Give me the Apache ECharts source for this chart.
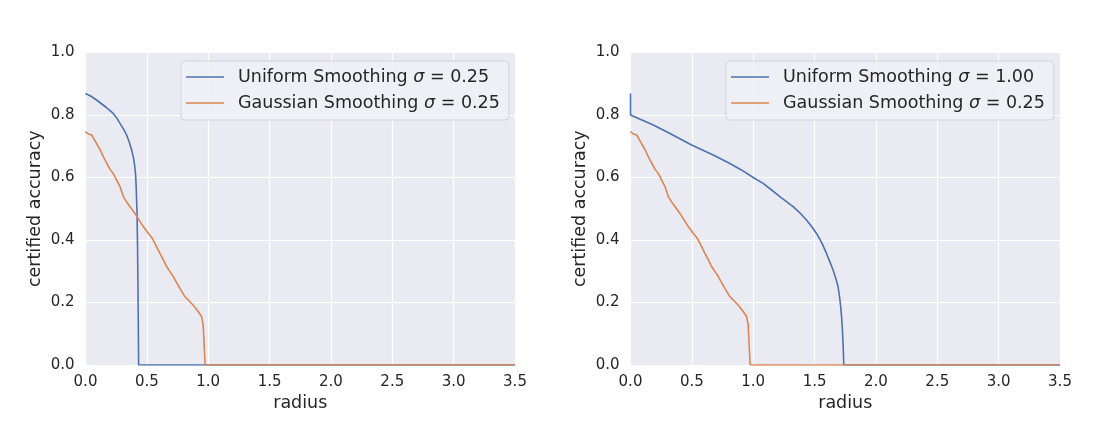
<!DOCTYPE html>
<html>
<head>
<meta charset="utf-8">
<script src="https://cdn.jsdelivr.net/npm/echarts@6/dist/echarts.min.js"></script>
<style>
  html, body { margin: 0; padding: 0; background: #ffffff; }
  #chart { width: 1105px; height: 438px; }
</style>
</head>
<body>
<div id="chart"></div>
<script>
// [radius, certified accuracy] points
const uniform025 = [
  [0, 0.869], [0.045, 0.86], [0.09, 0.848], [0.13, 0.836], [0.17, 0.824],
  [0.2, 0.814], [0.226, 0.805], [0.255, 0.79], [0.281, 0.773], [0.31, 0.755],
  [0.335, 0.736], [0.357, 0.713], [0.376, 0.688], [0.39, 0.665], [0.4, 0.64],
  [0.408, 0.61], [0.413, 0.57], [0.417, 0.52], [0.42, 0.485], [0.424, 0.38],
  [0.427, 0.272], [0.43, 0.14], [0.433, 0], [3.5, 0]
];
const gaussian025 = [
  [0, 0.747], [0.02, 0.74], [0.05, 0.736], [0.07, 0.722], [0.09, 0.709], [0.12, 0.688],
  [0.145, 0.667], [0.17, 0.648], [0.2, 0.626], [0.226, 0.613], [0.25, 0.595],
  [0.281, 0.571], [0.308, 0.539], [0.335, 0.522], [0.362, 0.507], [0.403, 0.485],
  [0.44, 0.462], [0.471, 0.443], [0.512, 0.421], [0.54, 0.408], [0.566, 0.389],
  [0.606, 0.357], [0.635, 0.336], [0.661, 0.315], [0.69, 0.298], [0.715, 0.283],
  [0.745, 0.262], [0.769, 0.245], [0.81, 0.219], [0.845, 0.205], [0.877, 0.192],
  [0.918, 0.171], [0.946, 0.155], [0.959, 0.128], [0.962, 0.128], [0.975, 0], [3.5, 0]
];
const uniform100 = [
  [0, 0.869], [0, 0.80], [0.186, 0.768], [0.322, 0.741], [0.498, 0.704],
  [0.674, 0.672], [0.81, 0.645], [0.9, 0.625], [1.0, 0.6], [1.081, 0.581],
  [1.15, 0.56], [1.217, 0.539], [1.325, 0.507], [1.38, 0.487], [1.434, 0.464],
  [1.476, 0.443], [1.516, 0.421], [1.56, 0.39], [1.597, 0.357], [1.625, 0.33],
  [1.651, 0.304], [1.672, 0.278], [1.691, 0.251], [1.703, 0.22], [1.713, 0.187],
  [1.721, 0.15], [1.727, 0.112], [1.733, 0.06], [1.738, 0], [3.5, 0]
];

const leftNames = ['Uniform Smoothing σ = 0.25', 'Gaussian Smoothing σ = 0.25'];
const rightNames = ['Uniform Smoothing σ = 1.00', 'Gaussian Smoothing σ = 0.25 '];

const blue = '#4c72b0';
const orange = '#dd8452';
const textColor = '#262626';
const font = 'DejaVu Sans';

const chart = echarts.init(document.getElementById('chart'));

function xAxisFor(idx) {
  return {
    type: 'value', gridIndex: idx, min: 0, max: 3.5, interval: 0.5,
    name: 'radius', nameLocation: 'middle', nameGap: 29,
    nameTextStyle: { fontFamily: font, fontSize: 17.5, color: textColor },
    axisLine: { show: false }, axisTick: { show: false },
    axisLabel: { fontFamily: font, fontSize: 15, color: textColor, margin: 10,
      formatter: v => v.toFixed(1) },
    splitLine: { show: true, lineStyle: { color: '#ffffff', width: 1.2 } }
  };
}

function yAxisFor(idx) {
  return {
    type: 'value', gridIndex: idx, min: 0, max: 1, interval: 0.2,
    name: 'certified accuracy', nameLocation: 'middle', nameGap: 41,
    nameTextStyle: { fontFamily: font, fontSize: 17.5, color: textColor },
    axisLine: { show: false }, axisTick: { show: false },
    axisLabel: { fontFamily: font, fontSize: 15, color: textColor, margin: 11,
      formatter: v => v.toFixed(1) },
    splitLine: { show: true, lineStyle: { color: '#ffffff', width: 1.2 } }
  };
}

function legendFor(names, left) {
  return {
    data: names, left: left, top: 61,
    orient: 'vertical', icon: 'rect', itemWidth: 38, itemHeight: 1.6, itemGap: 8,
    padding: [7, 9, 8, 5],
    backgroundColor: 'rgba(240,240,246,0.8)', borderColor: '#d3d3da', borderWidth: 1,
    borderRadius: 4,
    textStyle: { fontFamily: font, fontSize: 17.5, color: textColor, padding: [0, 0, 0, 9],
      rich: { s: { fontFamily: font, fontSize: 17.5, fontStyle: 'italic', color: textColor } } },
    formatter: n => n.trim().replace('σ', '{s|σ}')
  };
}

function lineSeries(name, data, color, x, y) {
  return {
    name: name, type: 'line', data: data, xAxisIndex: x, yAxisIndex: y,
    showSymbol: false, symbol: 'none', color: color,
    lineStyle: { color: color, width: 1.6 }, animation: false
  };
}

chart.setOption({
  backgroundColor: '#ffffff',
  grid: [
    { left: 85.5, top: 52.5, width: 429.5, height: 312.5, show: true,
      backgroundColor: '#eaeaf2', borderWidth: 0 },
    { left: 630.5, top: 52.5, width: 429.5, height: 312.5, show: true,
      backgroundColor: '#eaeaf2', borderWidth: 0 }
  ],
  xAxis: [xAxisFor(0), xAxisFor(1)],
  yAxis: [yAxisFor(0), yAxisFor(1)],
  legend: [legendFor(leftNames, 181), legendFor(rightNames, 726)],
  series: [
    lineSeries(leftNames[0], uniform025, blue, 0, 0),
    lineSeries(leftNames[1], gaussian025, orange, 0, 0),
    lineSeries(rightNames[0], uniform100, blue, 1, 1),
    lineSeries(rightNames[1], gaussian025, orange, 1, 1)
  ]
});
</script>
</body>
</html>
